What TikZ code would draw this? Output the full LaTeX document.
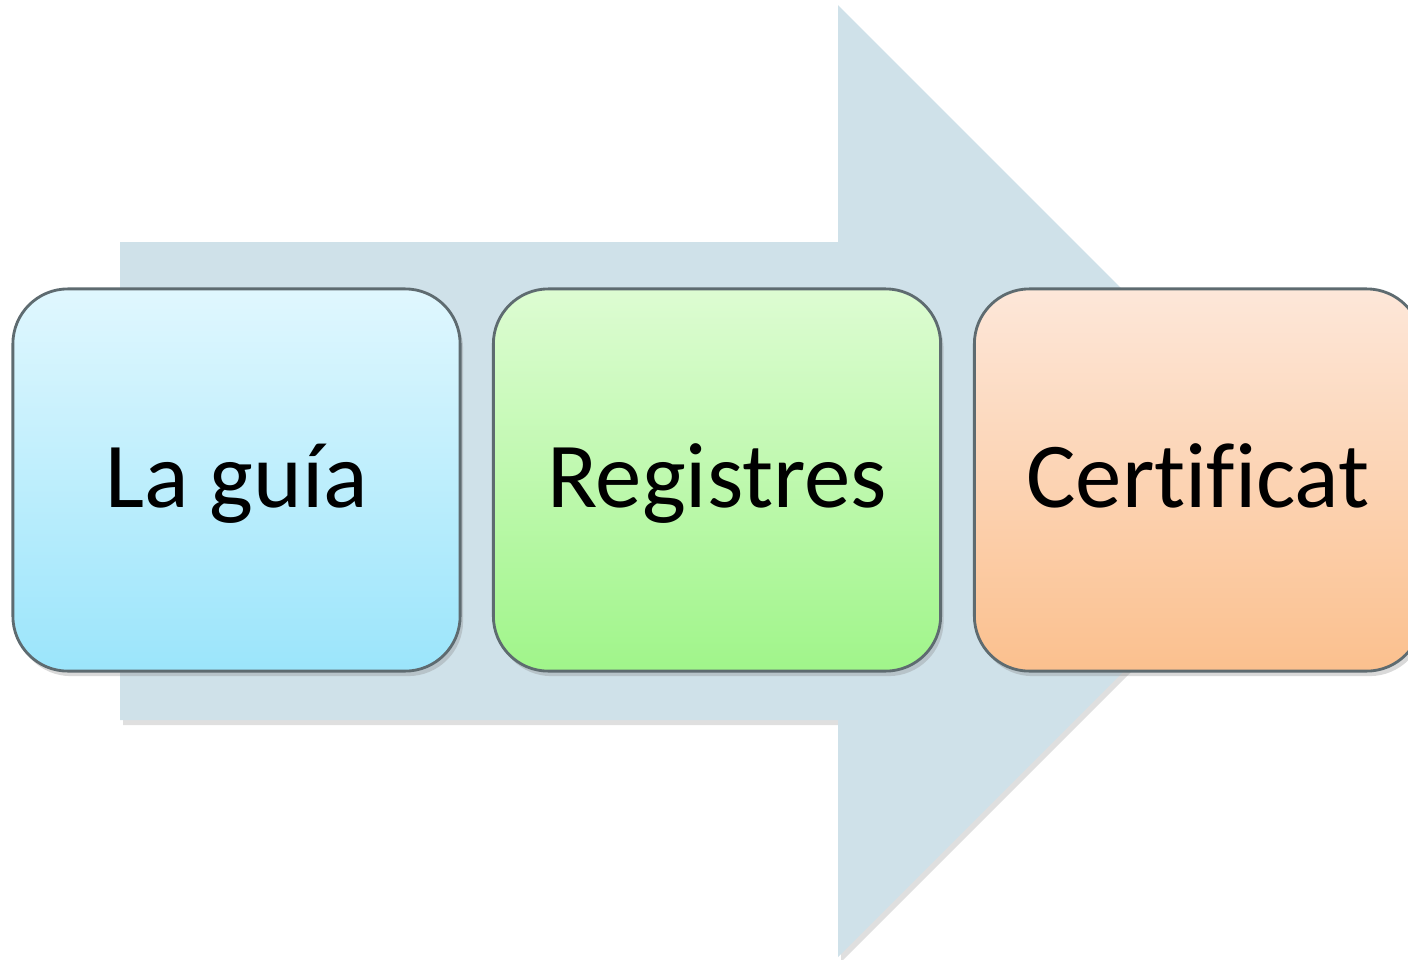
\documentclass[tikz,border=0pt]{standalone}
\usepackage{fontspec}
\setmainfont[Ligatures=NoCommon]{Carlito}
\usetikzlibrary{shadows}

\definecolor{arrowfill}{HTML}{CFE1E9}
\definecolor{guiatop}{HTML}{E0F7FE}
\definecolor{guiabot}{HTML}{9BE5FB}
\definecolor{regtop}{HTML}{DDFCD2}
\definecolor{regbot}{HTML}{A0F58A}
\definecolor{certtop}{HTML}{FDE7D9}
\definecolor{certbot}{HTML}{FBC08E}
\definecolor{boxline}{HTML}{5E6B70}

\begin{document}
\begin{tikzpicture}[x=0.01cm, y=-0.01cm,
  stepbox/.style={draw=boxline, line width=0.8pt, rounded corners=0.55cm,
    minimum width=4.47cm, minimum height=3.82cm,
    text height=0.72cm, text depth=0.18cm,
    font=\fontsize{26.4}{30}\selectfont,
    drop shadow={opacity=0.3, shadow xshift=0.03cm, shadow yshift=-0.05cm}}]
\useasboundingbox (0,0) rectangle (1408,960);

% big arrow in the back
\coordinate (T) at (838, 5);
\coordinate (P) at (1314, 481);
\coordinate (B) at (838, 957);
\fill[arrowfill, drop shadow={opacity=0.25, shadow xshift=0.03cm, shadow yshift=-0.05cm}]
(120, 242) -- (838, 242) -- (T) -- (P) -- (B) -- (838, 720) -- (120, 720) -- cycle;

% the three steps
\node[stepbox, top color=guiatop, bottom color=guiabot] (guia) at (236.5, 480) {La guía};
\node[stepbox, top color=regtop, bottom color=regbot] (reg) at (717, 480) {Registres};
\node[stepbox, top color=certtop, bottom color=certbot] (cert) at (1198, 480) {Certificat};
\end{tikzpicture}
\end{document}
